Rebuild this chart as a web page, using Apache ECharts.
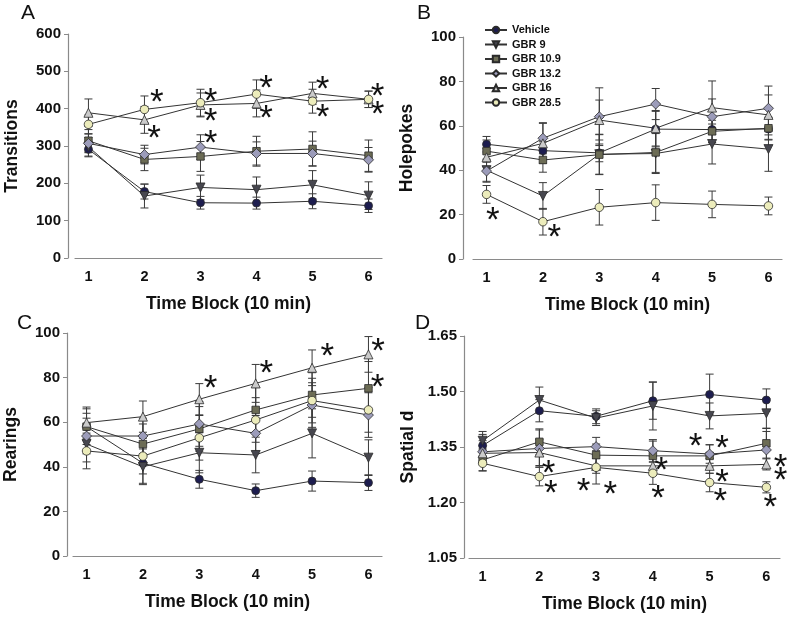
<!DOCTYPE html>
<html><head><meta charset="utf-8">
<script src="https://cdn.jsdelivr.net/npm/echarts@6/dist/echarts.min.js"></script>
<style>html,body{margin:0;padding:0;background:#fff}#c{width:791px;height:620px}</style>
</head><body><div id="c"></div>
<script>
const categories = [1, 2, 3, 4, 5, 6];
const seriesNames = ['Vehicle', 'GBR 9', 'GBR 10.9', 'GBR 13.2', 'GBR 16', 'GBR 28.5'];

// Panel A: Transitions (order follows seriesNames)
const transitionsMeans = [
  [291, 178, 148, 147, 152, 140],
  [298, 166, 189, 183, 196, 167],
  [314, 264, 272, 286, 292, 274],
  [307, 277, 297, 280, 280, 263],
  [389, 370, 410, 414, 441, 425],
  [358, 398, 416, 439, 420, 425]
];
const transitionsErrors = [
  [20, 20, 17, 16, 20, 18],
  [25, 32, 33, 34, 38, 37],
  [30, 30, 40, 40, 46, 42],
  [25, 25, 33, 31, 33, 33],
  [37, 36, 32, 36, 30, 22],
  [25, 36, 36, 38, 32, 22]
];
const transitionsStars = [[2.22,437],[2.17,340],[3.18,438],[3.18,385],[3.18,325],[4.17,472],[4.17,394],[5.18,470],[5.18,396],[6.16,452],[6.16,404]];
const transitionsTicks = [0, 100, 200, 300, 400, 500, 600];

// Panel B: Holepokes
const holepokesMeans = [
  [51.7, 48.8, 47.8, 58.5, 58.3, 58.6],
  [40.0, 28.4, 47.2, 47.5, 51.8, 49.5],
  [48.6, 44.6, 47.0, 48.0, 57.5, 58.9],
  [39.6, 54.4, 64.1, 69.8, 64.1, 67.9],
  [45.8, 52.1, 62.6, 58.9, 68.2, 64.9],
  [29.1, 16.8, 23.3, 25.4, 24.6, 23.9]
];
const holepokesErrors = [
  [3.5, 4, 4, 8, 6, 5],
  [5, 6, 9, 9, 9, 10],
  [5, 5.5, 9, 9, 5, 5],
  [5, 7, 13, 7, 8, 10],
  [4, 9, 9, 8, 12, 9],
  [4, 6, 8, 8, 6, 4]
];
const holepokesStars = [[1.11,20.6],[2.20,13.1]];
const holepokesTicks = [0, 20, 40, 60, 80, 100];

// Panel C: Rearings
const rearingsMeans = [
  [58.0, 41.6, 34.4, 29.3, 33.6, 32.9],
  [50.2, 40.0, 46.3, 45.3, 55.0, 44.1],
  [58.0, 50.2, 57.0, 65.5, 72.2, 75.2],
  [53.8, 53.8, 59.2, 55.0, 67.7, 63.2],
  [59.8, 62.5, 70.3, 77.4, 84.4, 90.4],
  [47.1, 44.8, 53.0, 61.0, 69.7, 65.5]
];
const rearingsErrors = [
  [6, 9, 4, 3, 4.5, 3.5],
  [8, 8, 9, 8, 11, 8],
  [8, 9, 10, 10, 10, 12],
  [8, 8, 10, 8, 10, 10],
  [7, 7, 7, 8.5, 8, 8],
  [8, 8, 10, 10, 10, 10]
];
const rearingsStars = [[3.20,78.2],[4.19,84.9],[5.27,92.7],[6.17,95.1],[6.16,78.9]];
const rearingsTicks = [0, 20, 40, 60, 80, 100];

// Panel D: Spatial d
const spatialMeans = [
  [1.354, 1.448, 1.433, 1.475, 1.492, 1.477],
  [1.367, 1.477, 1.428, 1.461, 1.434, 1.441],
  [1.315, 1.364, 1.328, 1.326, 1.326, 1.360],
  [1.337, 1.346, 1.351, 1.340, 1.331, 1.342],
  [1.333, 1.335, 1.299, 1.299, 1.299, 1.303],
  [1.306, 1.270, 1.295, 1.279, 1.254, 1.241]
];
const spatialErrors = [
  [0.03, 0.03, 0.02, 0.05, 0.055, 0.03],
  [0.025, 0.035, 0.02, 0.065, 0.035, 0.04],
  [0.03, 0.035, 0.03, 0.04, 0.03, 0.04],
  [0.03, 0.05, 0.025, 0.03, 0.025, 0.05],
  [0.02, 0.035, 0.02, 0.025, 0.02, 0.015],
  [0.02, 0.025, 0.045, 0.03, 0.025, 0.015]
];
const spatialStars = [[2.16,1.299],[2.20,1.243],[2.78,1.250],[3.25,1.241],[4.15,1.306],[4.09,1.229],[4.75,1.371],[5.22,1.366],[5.22,1.274],[5.19,1.223],[6.25,1.315],[6.25,1.279],[6.07,1.207]];
const spatialTicks = [1.05, 1.20, 1.35, 1.50, 1.65];

const yTitles = ['Transitions', 'Holepokes', 'Rearings', 'Spatial d'];
const xTitle = 'Time Block (10 min)';
const panelLetters = ['A', 'B', 'C', 'D'];

// ---- styles ----
const FONT = 'Liberation Sans, Arial, sans-serif';
const fills = ['#1d1d4f', '#47474f', '#6c6c55', '#9c9cba', '#cbcbcb', '#ececbb'];
const symbols = ['circle', 'triangle', 'rect', 'diamond', 'triangle', 'circle'];
const symRot = [0, 180, 0, 0, 0, 0];
const symSizes = [8, 9, 7.5, 10, 9, 8.5];
const AXIS_GRAY = '#8a8a8a';

const grids = [
  {left: 75, top: 34, width: 307, height: 224},
  {left: 473, top: 37, width: 309, height: 222},
  {left: 73, top: 333, width: 309, height: 223},
  {left: 469, top: 336, width: 311, height: 222}
];
const yOffsets = [7, 10, 6, 5];
const panels = [
  {means: transitionsMeans, errs: transitionsErrors, stars: transitionsStars, ticks: transitionsTicks, fmt: v => String(Math.round(v))},
  {means: holepokesMeans, errs: holepokesErrors, stars: holepokesStars, ticks: holepokesTicks, fmt: v => String(Math.round(v))},
  {means: rearingsMeans, errs: rearingsErrors, stars: rearingsStars, ticks: rearingsTicks, fmt: v => String(Math.round(v))},
  {means: spatialMeans, errs: spatialErrors, stars: spatialStars, ticks: spatialTicks, fmt: v => v.toFixed(2)}
];

const xAxes = [], yAxes = [], series = [];
panels.forEach((p, gi) => {
  const t = p.ticks;
  xAxes.push({
    type: 'value', gridIndex: gi, min: 0.76, max: 6.24,
    name: xTitle, nameLocation: 'middle', nameGap: 37,
    nameTextStyle: {fontFamily: FONT, fontWeight: 'bold', fontSize: 17.5, color: '#111'},
    axisLine: {show: true, onZero: false, lineStyle: {color: AXIS_GRAY, width: 1.2}},
    axisTick: {show: false},
    splitLine: {show: false},
    axisLabel: {customValues: categories, margin: 11, fontFamily: FONT, fontWeight: 'bold', fontSize: 14.5, color: '#111'}
  });
  yAxes.push({
    type: 'value', gridIndex: gi, min: t[0], max: t[t.length - 1], interval: t[1] - t[0],
    offset: yOffsets[gi],
    name: yTitles[gi], nameLocation: 'middle', nameGap: 47,
    nameTextStyle: {fontFamily: FONT, fontWeight: 'bold', fontSize: 17.5, color: '#111'},
    axisLine: {show: true, lineStyle: {color: AXIS_GRAY, width: 1.2}},
    axisTick: {show: true, length: 4, lineStyle: {color: AXIS_GRAY}},
    splitLine: {show: false},
    axisLabel: {customValues: t, formatter: p.fmt, margin: 7, fontFamily: FONT, fontWeight: 'bold', fontSize: 15, color: '#111'}
  });
  // error bars
  p.means.forEach((m, si) => {
    series.push({
      type: 'custom', xAxisIndex: gi, yAxisIndex: gi, silent: true, z: 2,
      data: m.map((v, i) => [categories[i], v - p.errs[si][i], v + p.errs[si][i]]),
      renderItem: (params, api) => {
        const lo = api.coord([api.value(0), api.value(1)]);
        const hi = api.coord([api.value(0), api.value(2)]);
        const hw = 4;
        const st = {stroke: '#3a3a3a', lineWidth: 1};
        return {type: 'group', children: [
          {type: 'line', shape: {x1: lo[0], y1: lo[1], x2: hi[0], y2: hi[1]}, style: st},
          {type: 'line', shape: {x1: lo[0] - hw, y1: lo[1], x2: lo[0] + hw, y2: lo[1]}, style: st},
          {type: 'line', shape: {x1: hi[0] - hw, y1: hi[1], x2: hi[0] + hw, y2: hi[1]}, style: st}
        ]};
      }
    });
  });
  // lines + markers
  p.means.forEach((m, si) => {
    series.push({
      type: 'line', name: seriesNames[si], xAxisIndex: gi, yAxisIndex: gi, z: 3,
      data: m.map((v, i) => [categories[i], v]),
      symbol: symbols[si], symbolRotate: symRot[si], symbolSize: symSizes[si], showAllSymbol: true,
      itemStyle: {color: fills[si], borderColor: '#2a2a2a', borderWidth: 0.8},
      lineStyle: {color: '#333', width: 1},
      emphasis: {disabled: true}, animation: false
    });
  });
  // significance asterisks
  series.push({
    type: 'custom', xAxisIndex: gi, yAxisIndex: gi, silent: true, z: 5,
    data: p.stars,
    renderItem: (params, api) => {
      const c = api.coord([api.value(0), api.value(1)]);
      return {type: 'text', x: c[0], y: c[1] + 8, style: {text: '*', fill: '#111', font: 'normal 35px ' + FONT, textAlign: 'center', textVerticalAlign: 'middle'}};
    }
  });
});

const chart = echarts.init(document.getElementById('c'), null, {renderer: 'canvas'});
chart.setOption({
  backgroundColor: '#fff',
  animation: false,
  grid: grids,
  xAxis: xAxes,
  yAxis: yAxes,
  legend: {
    data: seriesNames, orient: 'vertical', left: 484, top: 24, padding: 0,
    itemWidth: 22, itemHeight: 8, itemGap: 2.5,
    textStyle: {fontFamily: FONT, fontWeight: 'bold', fontSize: 11, color: '#111', lineHeight: 12},
    selectedMode: false
  },
  graphic: panelLetters.map((L, i) => ({
    type: 'text', left: [21, 417, 17, 415][i], top: [3, 3, 313, 313][i],
    style: {text: L, font: 'normal 21px ' + FONT, fill: '#111'}
  })),
  series: series
});
</script></body></html>
